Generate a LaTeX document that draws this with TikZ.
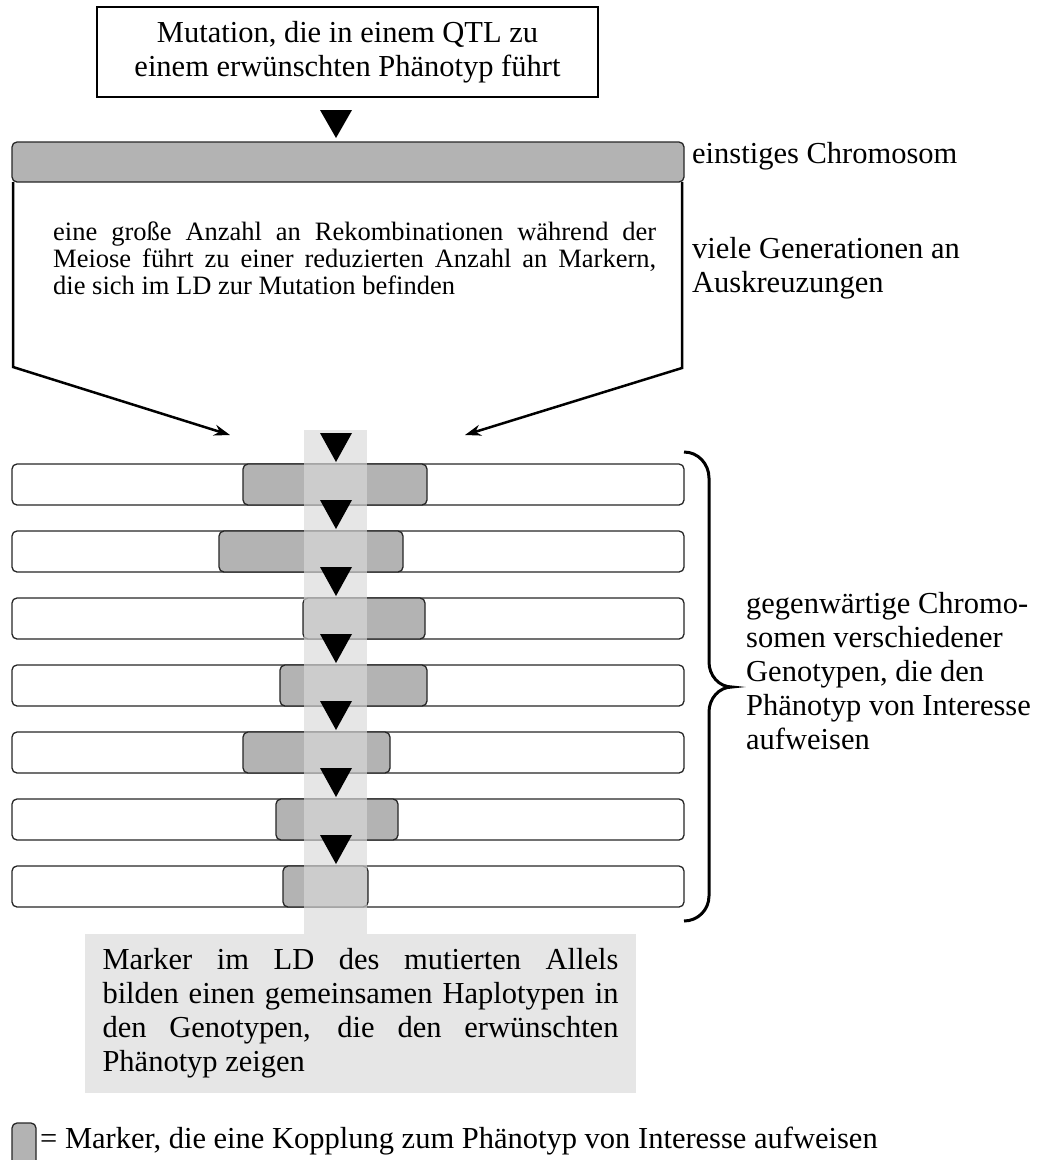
\documentclass[tikz,border=0pt]{standalone}
\usepackage{fontspec}
\setmainfont{Liberation Serif}
\usetikzlibrary{arrows.meta,calc}

\definecolor{markgray}{RGB}{179,179,179}
\definecolor{ldgray}{RGB}{230,230,230}
\definecolor{colgray}{RGB}{217,217,217}
\newcommand{\jline}[2]{\makebox[#1][s]{#2}}

\begin{document}
\begin{tikzpicture}[x=1pt,y=-1pt,
  bar/.style={draw=black!85,line width=1.3pt,rounded corners=5pt,fill=white},
  markbar/.style={bar,fill=markgray},
  big/.style={font=\fontsize{30.5}{34}\selectfont},
  small/.style={font=\fontsize{26.5}{27}\selectfont}]
\useasboundingbox (0,0) rectangle (1038,1160);

\node[draw,line width=1.2pt,minimum width=501pt,minimum height=90pt,big,align=center] (qtl) at (347.5,52) {Mutation, die in einem QTL zu\\einem erwünschten Phänotyp führt};
\fill (320,110) -- (352,110) -- (336,138) -- cycle;

\draw[line width=2.5pt,-{Stealth[length=16pt,width=11pt]}] (13,182) -- (13,367) coordinate (bl) -- (230,435) coordinate (tl);
\draw[line width=2.5pt,-{Stealth[length=16pt,width=11pt]}] (682,182) -- (682,368) coordinate (br) -- (465,435) coordinate (tr);
\node[markbar,minimum width=672pt,minimum height=40pt] (old) at (348,162) {};
\node[big,anchor=base west,inner sep=0] (oldlab) at (692,163) {einstiges Chromosom};
\node[big,anchor=north west,inner sep=0,align=left] (gen) at (692,237) {viele Generationen an\\Auskreuzungen};
\node[small,anchor=north west,inner sep=0,align=left] (meiose) at (53,221.5) {\jline{603pt}{eine große Anzahl an Rekombinationen während der}\\\jline{603pt}{Meiose führt zu einer reduzierten Anzahl an Markern,}\\die sich im LD zur Mutation befinden};

% heutige Chromosomen
\draw[bar] (12,464) rectangle (684,505);
\draw[bar] (12,531) rectangle (684,572);
\draw[bar] (12,598) rectangle (684,639);
\draw[bar] (12,665) rectangle (684,706);
\draw[bar] (12,732) rectangle (684,773);
\draw[bar] (12,799) rectangle (684,840);
\draw[bar] (12,866) rectangle (684,907);
\draw[markbar] (243,464) rectangle (427,505);
\draw[markbar] (219,531) rectangle (403,572);
\draw[markbar] (303,598) rectangle (425,639);
\draw[markbar] (280,665) rectangle (427,706);
\draw[markbar] (243,732) rectangle (390,773);
\draw[markbar] (276,799) rectangle (398,840);
\draw[markbar] (283,866) rectangle (368,907);

\fill[colgray,fill opacity=0.66] (304,430) rectangle (367,934);
\fill (320,433) -- (352,433) -- (336,462) -- cycle;
\fill (320,500) -- (352,500) -- (336,529) -- cycle;
\fill (320,567) -- (352,567) -- (336,596) -- cycle;
\fill (320,634) -- (352,634) -- (336,663) -- cycle;
\fill (320,701) -- (352,701) -- (336,730) -- cycle;
\fill (320,768) -- (352,768) -- (336,797) -- cycle;
\fill (320,835) -- (352,835) -- (336,864) -- cycle;

\draw[line width=3pt] (684,452) to[out=0,in=90] (709,478) -- (709,662) to[out=-90,in=180] (732,687)
  to[out=180,in=90] (709,712) -- (709,896) to[out=-90,in=0] (684,921);
\node[big,anchor=north west,inner sep=0,align=left] (heute) at (746,592) {gegenwärtige Chromo-\\somen verschiedener\\Genotypen, die den\\Phänotyp von Interesse\\aufweisen};

\node[fill=ldgray,minimum width=551pt,minimum height=159pt,big,align=left] (ld) at (360.5,1013.5) {\jline{516pt}{Marker im LD des mutierten Allels}\\\jline{516pt}{bilden einen gemeinsamen Haplotypen in}\\\jline{516pt}{den Genotypen, die den erwünschten}\\Phänotyp zeigen};

\draw[markbar] (12,1123) rectangle (36,1166);
\node[big,anchor=base west,inner sep=0] (legende) at (40,1148) {= Marker, die eine Kopplung zum Phänotyp von Interesse aufweisen};
\end{tikzpicture}
\end{document}
